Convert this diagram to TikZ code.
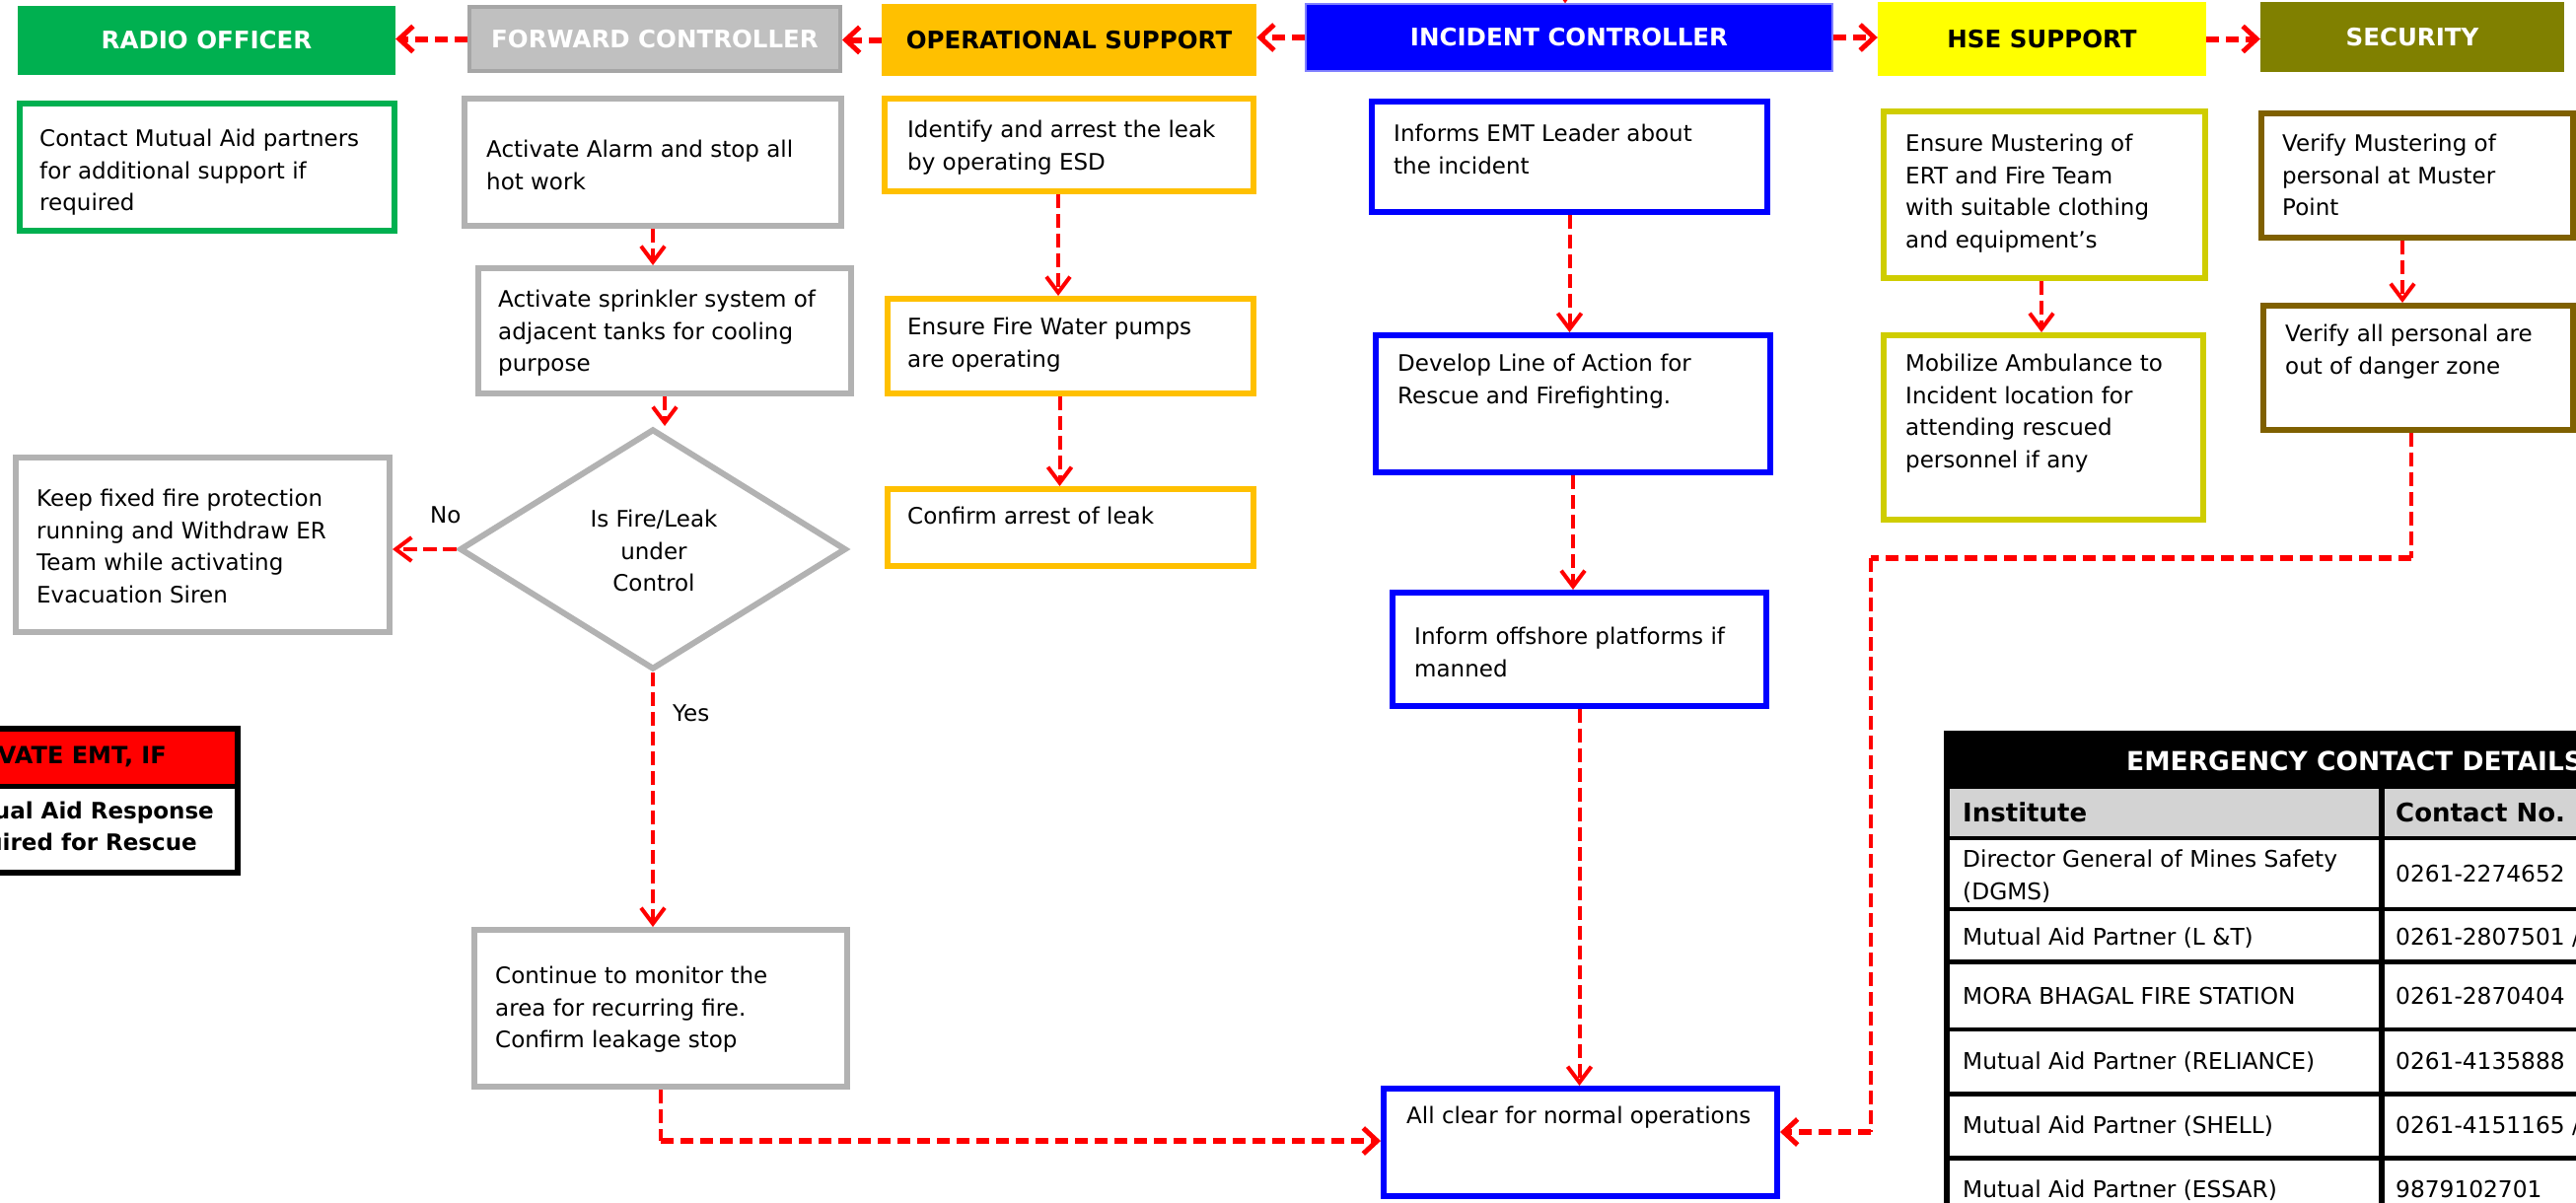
\documentclass[tikz,border=0pt]{standalone}
\usepackage{fontspec}
\setmainfont{DejaVu Sans}
\usetikzlibrary{arrows.meta,fit,shapes.geometric,calc}
\definecolor{rogreen}{HTML}{00B050}
\definecolor{fcgray}{HTML}{C0C0C0}
\definecolor{fcborder}{HTML}{A6A6A6}
\definecolor{boxgray}{HTML}{B2B2B2}
\definecolor{opor}{HTML}{FFC000}
\definecolor{icblue}{HTML}{0000FF}
\definecolor{icborder}{HTML}{8080FF}
\definecolor{hseyel}{HTML}{FFFF00}
\definecolor{hsebord}{HTML}{CFCD00}
\definecolor{secol}{HTML}{808000}
\definecolor{secbord}{HTML}{7F6000}
\definecolor{arrred}{HTML}{FF0000}
\definecolor{tabgray}{HTML}{D3D3D3}
\newcommand\myTxtFont{\fontsize{23}{32.5}\selectfont}
\newcommand\myTabFont{\fontsize{23.3}{33}\selectfont}
\newcommand\myHdrFont{\fontsize{24.5}{28}\selectfont\bfseries}
\newcommand\myBoldFont{\fontsize{23}{32}\selectfont\bfseries}
\newcommand\myTabBold{\fontsize{26}{30}\selectfont\bfseries}
\begin{document}
\begin{tikzpicture}[x=1pt,y=-1pt,
  cbox/.style={draw, line width=6pt, inner sep=0pt, fill=white},
  hdr/.style={inner sep=0pt},
  htxt/.style={inner sep=0pt, font=\myHdrFont, anchor=center},
  txt/.style={anchor=north west, inner sep=0pt, align=left, font=\myTxtFont},
  tabtxt/.style={anchor=north west, inner sep=0pt, align=left, font=\myTabFont},
  seg/.style={draw=arrred, line width=4pt, dash pattern=on 14pt off 6pt},
  conn/.style={seg, -{Straight Barb[length=16pt,width=24pt,line width=4pt]}},
  hseg/.style={draw=arrred, line width=6pt, dash pattern=on 13pt off 7pt},
  hconn/.style={hseg, -{Straight Barb[length=14pt,width=26pt,line width=5pt]}}
]
\fill[white] (0,0) rectangle (2612,1219);
\useasboundingbox (0,0) rectangle (2612,1219);
\begin{scope}
\clip (0,0) rectangle (2612,1219);

% ---------- header row ----------
\node[hdr, fill=rogreen, fit={(18,6) (401,76)}] (ro) {};
\node[hdr, fill=fcgray, draw=fcborder, line width=4pt, fit={(476,7) (852,72)}] (fc) {};
\node[hdr, fill=opor, fit={(894,4) (1274,77)}] (os) {};
\node[hdr, fill=icblue, draw=icborder, line width=1.5pt, fit={(1324,4) (1858,72)}] (ic) {};
\node[hdr, fill=hseyel, fit={(1904,2) (2237,77)}] (hse) {};
\node[hdr, fill=secol, fit={(2292,2) (2600,73)}] (sec) {};
\node[htxt, text=white] (rot) at (209.5,41) {RADIO OFFICER};
\node[htxt, text=white] (fct) at (664,40) {FORWARD CONTROLLER};
\node[htxt, text=black] (ost) at (1084,41) {OPERATIONAL SUPPORT};
\node[htxt, text=white] (ict) at (1591,38) {INCIDENT CONTROLLER};
\node[htxt, text=black] (hset) at (2070.5,40) {HSE SUPPORT};
\node[htxt, text=white] (sect) at (2446,38) {SECURITY};

% ---------- content boxes ----------
\node[cbox, draw=rogreen, fit={(20,105) (400,234)}] (g1) {};
\node[cbox, draw=boxgray, fit={(471,100) (853,229)}] (f1) {};
\node[cbox, draw=boxgray, fit={(485,272) (863,399)}] (f2) {};
\node[draw=boxgray, line width=6pt, diamond, inner sep=0pt, fill=white, minimum width=392pt, minimum height=244pt] (dia) at (662,557) {};
\node[cbox, draw=boxgray, fit={(16,464) (395,641)}] (keep) {};
\node[cbox, draw=boxgray, fit={(481,943) (859,1102)}] (cont) {};
\node[cbox, draw=opor, fit={(897,100) (1271,194)}] (o1) {};
\node[cbox, draw=opor, fit={(900,303) (1271,399)}] (o2) {};
\node[cbox, draw=opor, fit={(900,496) (1271,574)}] (o3) {};
\node[cbox, draw=icblue, fit={(1391,103) (1792,215)}] (i1) {};
\node[cbox, draw=icblue, fit={(1395,340) (1795,479)}] (i2) {};
\node[cbox, draw=icblue, fit={(1412,601) (1791,716)}] (i3) {};
\node[cbox, draw=icblue, fit={(1403,1104) (1802,1213)}] (i4) {};
\node[cbox, draw=hsebord, fit={(1910,113) (2236,282)}] (h1) {};
\node[cbox, draw=hsebord, fit={(1910,340) (2234,527)}] (h2) {};
\node[cbox, draw=secbord, fit={(2293,115) (2609,241)}] (s1) {};
\node[cbox, draw=secbord, fit={(2295,310) (2609,436)}] (s2) {};

% ---------- texts ----------
\node[txt] (g1t) at (40,131) {Contact Mutual Aid partners\\for additional support if\\required};
\node[txt] (f1t) at (493,142) {Activate Alarm and stop all\\hot work};
\node[txt] (f2t) at (505,294) {Activate sprinkler system of\\adjacent tanks for cooling\\purpose};
\node[anchor=north, inner sep=0pt, align=center, font=\myTxtFont] (diat) at (663,517) {Is Fire/Leak\\under\\Control};
\node[txt] (keept) at (37,496) {Keep fixed fire protection\\running and Withdraw ER\\Team while activating\\Evacuation Siren};
\node[txt] (nolab) at (436,514) {No};
\node[txt] (yeslab) at (682,715) {Yes};
\node[txt] (contt) at (502,980) {Continue to monitor the\\area for recurring fire.\\Confirm leakage stop};
\node[txt] (o1t) at (920,122) {Identify and arrest the leak\\by operating ESD};
\node[txt] (o2t) at (920,322) {Ensure Fire Water pumps\\are operating};
\node[txt] (o3t) at (920,514) {Confirm arrest of leak};
\node[txt] (i1t) at (1413,126) {Informs EMT Leader about\\the incident};
\node[txt] (i2t) at (1417,359) {Develop Line of Action for\\Rescue and Firefighting.};
\node[txt] (i3t) at (1434,636) {Inform offshore platforms if\\manned};
\node[txt] (i4t) at (1426,1122) {All clear for normal operations};
\node[txt] (h1t) at (1932,136) {Ensure Mustering of\\ERT and Fire Team\\with suitable clothing\\and equipment’s};
\node[txt] (h2t) at (1932,359) {Mobilize Ambulance to\\Incident location for\\attending rescued\\personnel if any};
\node[txt] (s1t) at (2314,136) {Verify Mustering of\\personal at Muster\\Point};
\node[txt] (s2t) at (2317,329) {Verify all personal are\\out of danger zone};

% ---------- header connectors ----------
\coordinate (topin) at (1587,-40);
\draw[conn] (topin) -- (topin |- ic.north);
\draw[hconn] (ic.west) -- (ic.west -| os.east);
\draw[hconn] (os.west) -- (os.west -| fc.east);
\draw[hconn] (fc.west) -- (fc.west -| ro.east);
\draw[hconn] (ic.east) -- (ic.east -| hse.west);
\draw[hconn] (hse.east) -- (hse.east -| sec.west);

% ---------- flow connectors ----------
\draw[conn] (f1.south) -- (f1.south |- f2.north);
\draw[conn] (f2.south) -- (f2.south |- dia.north);
\draw[conn] (dia.west) -- (dia.west -| keep.east);
\draw[conn] (dia.south) -- (dia.south |- cont.north);
\coordinate (c1) at (cont.south |- 0,1157);
\draw[seg] (cont.south) -- (c1);
\draw[hconn] (c1) -- (c1 -| i4.west);

\coordinate (oa) at ($(o1.south)+(-11,0)$);
\draw[conn] (oa) -- (oa |- o2.north);
\coordinate (ob) at ($(o2.south)+(-11,0)$);
\draw[conn] (ob) -- (ob |- o3.north);

\draw[conn] (i1.south) -- (i1.south |- i2.north);
\draw[conn] (i2.south) -- (i2.south |- i3.north);
\draw[conn] (i3.south) -- (i3.south |- i4.north);

\coordinate (ha) at ($(h1.south)+(-3,0)$);
\draw[conn] (ha) -- (ha |- h2.north);
\coordinate (sa) at ($(s1.south)+(-15,0)$);
\draw[conn] (sa) -- (sa |- s2.north);

\coordinate (p1) at ($(s2.south)+(-7,0)$);
\coordinate (p2) at (p1 |- 0,566);
\coordinate (p3) at (1897,566);
\coordinate (p4) at (1897,1148);
\draw[seg] (p1) -- (p2);
\draw[hseg] (p2) -- (p3);
\draw[seg] (p3) -- (p4);
\draw[hconn] (p4) -- (p4 -| i4.east);

% ---------- ACTIVATE EMT box ----------
\fill[black] (-30,736) rectangle (244,888);
\fill[arrred] (-30,742) rectangle (238,795);
\fill[white] (-30,800) rectangle (238,882);
\node[anchor=north east, inner sep=0pt, font=\fontsize{24}{30}\selectfont\bfseries] (emt) at (169,756) {ACTIVATE EMT, IF};
\node[anchor=north east, inner sep=0pt, font=\myBoldFont] (mar) at (217,813) {Mutual Aid Response};
\node[anchor=north east, inner sep=0pt, font=\myBoldFont] (rfr) at (200,845) {Required for Rescue};

% ---------- contact table ----------
\fill[black] (1971,741) rectangle (2650,1250);
\fill[tabgray] (1977,800) rectangle (2412,848);
\fill[tabgray] (2418,800) rectangle (2650,848);
\foreach \ya/\yb in {852/920, 924/973, 978/1042, 1046/1107, 1112/1172, 1177/1250}{
  \fill[white] (1977,\ya) rectangle (2412,\yb);
  \fill[white] (2418,\ya) rectangle (2650,\yb);
}
\node[anchor=north west, inner sep=0pt, font=\fontsize{26.5}{30}\selectfont\bfseries, text=white] (ttl) at (2156,762) {EMERGENCY CONTACT DETAILS};
\node[anchor=north west, inner sep=0pt, font=\myTabBold] (thi) at (1990,814) {Institute};
\node[anchor=north west, inner sep=0pt, font=\myTabBold] (thc) at (2429,814) {Contact No.};
\node[tabtxt] (r1a) at (1990,862) {Director General of Mines Safety\\(DGMS)};
\node[tabtxt] (r1b) at (2429,877) {0261-2274652};
\node[tabtxt] (r2a) at (1990,941) {Mutual Aid Partner (L \&T)};
\node[tabtxt] (r2b) at (2429,941) {0261-2807501 /};
\node[tabtxt] (r3a) at (1990,1001) {MORA BHAGAL FIRE STATION};
\node[tabtxt] (r3b) at (2429,1001) {0261-2870404};
\node[tabtxt] (r4a) at (1990,1067) {Mutual Aid Partner (RELIANCE)};
\node[tabtxt] (r4b) at (2429,1067) {0261-4135888};
\node[tabtxt] (r5a) at (1990,1132) {Mutual Aid Partner (SHELL)};
\node[tabtxt] (r5b) at (2429,1132) {0261-4151165 /};
\node[tabtxt] (r6a) at (1990,1197) {Mutual Aid Partner (ESSAR)};
\node[tabtxt] (r6b) at (2429,1197) {9879102701};
\end{scope}
\end{tikzpicture}
\end{document}
